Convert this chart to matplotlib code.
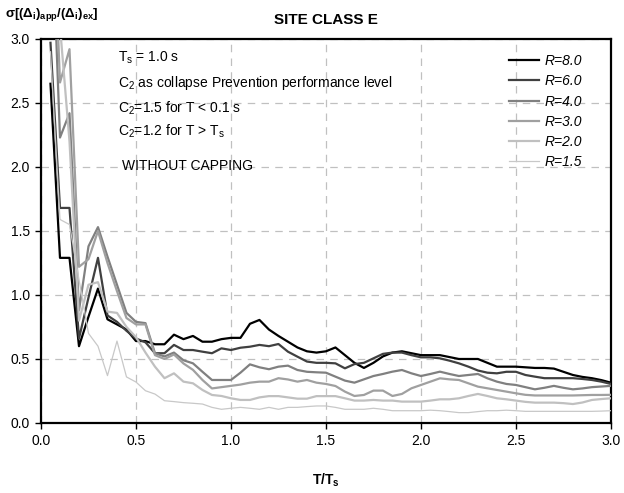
# Dispersión de la razón de desplazamientos - Site Class E
import matplotlib
matplotlib.use("Agg")
import matplotlib.pyplot as plt
from matplotlib.ticker import MultipleLocator, FormatStrFormatter

plt.rcParams["font.family"] = ["Liberation Sans", "DejaVu Sans"]
plt.rcParams["mathtext.fontset"] = "custom"
plt.rcParams["mathtext.rm"] = "Liberation Sans"
plt.rcParams["mathtext.it"] = "Liberation Sans:italic"
plt.rcParams["mathtext.bf"] = "Liberation Sans:bold"

# ------------------------------------------------------------------
# datos (T/Ts cada 0.05)
# ------------------------------------------------------------------
t_ratio = [0.05, 0.10, 0.15, 0.20, 0.25, 0.30, 0.35, 0.40, 0.45, 0.50,
           0.55, 0.60, 0.65, 0.70, 0.75, 0.80, 0.85, 0.90, 0.95, 1.00,
           1.05, 1.10, 1.15, 1.20, 1.25, 1.30, 1.35, 1.40, 1.45, 1.50,
           1.55, 1.60, 1.65, 1.70, 1.75, 1.80, 1.85, 1.90, 1.95, 2.00,
           2.05, 2.10, 2.15, 2.20, 2.25, 2.30, 2.35, 2.40, 2.45, 2.50,
           2.55, 2.60, 2.65, 2.70, 2.75, 2.80, 2.85, 2.90, 2.95, 3.00]

r80 = [2.65, 1.29, 1.29, 0.60, 0.83, 1.05, 0.81, 0.77, 0.73, 0.64,
       0.64, 0.615, 0.615, 0.69, 0.655, 0.68, 0.635, 0.635, 0.655, 0.665,
       0.665, 0.775, 0.805, 0.73, 0.68, 0.635, 0.59, 0.56, 0.55, 0.56,
       0.59, 0.53, 0.47, 0.43, 0.47, 0.52, 0.55, 0.56, 0.545, 0.53,
       0.53, 0.53, 0.515, 0.50, 0.50, 0.50, 0.47, 0.44, 0.44, 0.44,
       0.435, 0.43, 0.43, 0.425, 0.40, 0.375, 0.36, 0.35, 0.335, 0.315]

r60 = [2.97, 1.68, 1.68, 0.66, 0.98, 1.29, 0.84, 0.79, 0.72, 0.66,
       0.63, 0.545, 0.545, 0.61, 0.57, 0.57, 0.557, 0.545, 0.583, 0.57,
       0.588, 0.596, 0.61, 0.60, 0.617, 0.557, 0.518, 0.48, 0.47, 0.47,
       0.466, 0.427, 0.46, 0.47, 0.505, 0.54, 0.55, 0.55, 0.53, 0.513,
       0.513, 0.505, 0.487, 0.466, 0.44, 0.41, 0.393, 0.388, 0.40, 0.40,
       0.375, 0.362, 0.35, 0.35, 0.35, 0.35, 0.344, 0.336, 0.323, 0.305]

r40 = [4.2, 2.23, 2.42, 0.88, 1.38, 1.53, 1.30, 1.08, 0.86, 0.79,
       0.78, 0.545, 0.52, 0.55, 0.49, 0.466, 0.40, 0.336, 0.336, 0.336,
       0.393, 0.458, 0.435, 0.42, 0.44, 0.448, 0.414, 0.40, 0.396, 0.393,
       0.362, 0.331, 0.315, 0.341, 0.367, 0.383, 0.401, 0.414, 0.388, 0.367,
       0.383, 0.401, 0.383, 0.367, 0.375, 0.383, 0.349, 0.323, 0.305, 0.297,
       0.28, 0.263, 0.275, 0.29, 0.275, 0.263, 0.27, 0.28, 0.285, 0.29]

r30 = [4.5, 2.66, 2.92, 1.22, 1.28, 1.50, 1.25, 1.03, 0.82, 0.77,
       0.77, 0.53, 0.50, 0.535, 0.465, 0.415, 0.336, 0.27, 0.28, 0.29,
       0.30, 0.315, 0.323, 0.323, 0.35, 0.34, 0.323, 0.336, 0.315, 0.305,
       0.289, 0.245, 0.211, 0.219, 0.253, 0.253, 0.211, 0.227, 0.271, 0.297,
       0.323, 0.349, 0.341, 0.336, 0.31, 0.284, 0.271, 0.258, 0.245, 0.232,
       0.22, 0.215, 0.215, 0.215, 0.215, 0.215, 0.217, 0.219, 0.219, 0.22]

r20 = [3.8, 3.1, 2.2, 0.80, 1.08, 1.10, 0.87, 0.86, 0.75, 0.67,
       0.55, 0.44, 0.35, 0.388, 0.323, 0.31, 0.258, 0.219, 0.211, 0.193,
       0.18, 0.18, 0.20, 0.21, 0.21, 0.20, 0.19, 0.19, 0.21, 0.21,
       0.21, 0.193, 0.175, 0.175, 0.18, 0.175, 0.175, 0.167, 0.167, 0.167,
       0.175, 0.185, 0.185, 0.193, 0.211, 0.227, 0.211, 0.193, 0.185, 0.175,
       0.165, 0.159, 0.159, 0.159, 0.155, 0.148, 0.16, 0.18, 0.187, 0.193]

r15 = [2.9, 1.59, 1.55, 1.12, 0.70, 0.60, 0.37, 0.64, 0.36, 0.32,
       0.252, 0.226, 0.174, 0.167, 0.159, 0.154, 0.148, 0.122, 0.107, 0.115,
       0.122, 0.115, 0.107, 0.122, 0.107, 0.122, 0.122, 0.128, 0.133, 0.133,
       0.122, 0.107, 0.107, 0.107, 0.115, 0.107, 0.096, 0.096, 0.096, 0.096,
       0.10, 0.096, 0.089, 0.081, 0.081, 0.089, 0.096, 0.096, 0.10, 0.096,
       0.091, 0.091, 0.091, 0.091, 0.091, 0.091, 0.091, 0.091, 0.093, 0.096]

series = [
    ("R=8.0", r80, "#000000", 1.6),
    ("R=6.0", r60, "#404040", 1.6),
    ("R=4.0", r40, "#808080", 1.6),
    ("R=3.0", r30, "#a0a0a0", 1.6),
    ("R=2.0", r20, "#c0c0c0", 1.6),
    ("R=1.5", r15, "#c8c8c8", 0.9),
]

# ------------------------------------------------------------------
# figura
# ------------------------------------------------------------------
fig = plt.figure(figsize=(6.24, 4.93), dpi=100)
ax = fig.add_axes([0.0657, 0.142, 0.9133, 0.779])

for label, vals, color, lw in series:
    ax.plot(t_ratio, vals, color=color, lw=lw, label=label, zorder=3)

ax.set_xlim(0, 3.0)
ax.set_ylim(0, 3.0)
ax.xaxis.set_major_locator(MultipleLocator(0.5))
ax.yaxis.set_major_locator(MultipleLocator(0.5))
ax.xaxis.set_major_formatter(FormatStrFormatter("%.1f"))
ax.yaxis.set_major_formatter(FormatStrFormatter("%.1f"))
ax.tick_params(direction="out", length=4, width=1, labelsize=10, pad=4)
ax.grid(True, color="#c0c0c0", ls=(0, (6, 5)), lw=0.9, zorder=0)
for sp in ax.spines.values():
    sp.set_linewidth(1.6)

ax.set_title("SITE CLASS E", fontsize=11, fontweight="bold", pad=11)
ax.set_xlabel(r"$\mathbf{T/T_s}$", fontsize=10, labelpad=17)
fig.text(0.008, 0.97, r"$\mathbf{\sigma[(\Delta_i)_{app}/(\Delta_i)_{ex}]}$",
         fontsize=9.5, ha="left", va="center")

# notas
ax.text(0.405, 2.85, r"T$_\mathregular{s}$ = 1.0 s", fontsize=10, va="center")
ax.text(0.405, 2.655, r"C$_\mathregular{2}$ as collapse Prevention performance level",
        fontsize=10, va="center")
ax.text(0.405, 2.46, r"C$_\mathregular{2}$=1.5 for T < 0.1 s", fontsize=10, va="center")
ax.text(0.405, 2.28, r"C$_\mathregular{2}$=1.2 for T > T$_\mathregular{s}$",
        fontsize=10, va="center")
ax.text(0.425, 2.01, "WITHOUT CAPPING", fontsize=10, va="center")

ax.legend(loc="upper right", bbox_to_anchor=(0.96, 0.975), frameon=False,
          prop={"style": "italic", "size": 10}, handlelength=2.2,
          handletextpad=0.4, labelspacing=0.45, borderaxespad=0)

fig.savefig("out.png", dpi=100)
